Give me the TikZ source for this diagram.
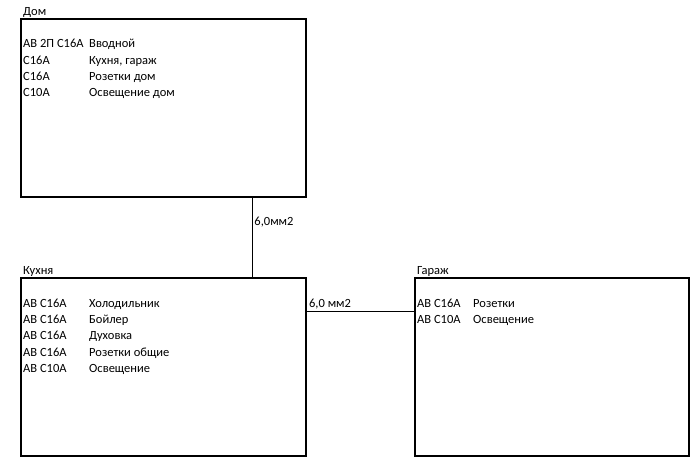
\documentclass[tikz,border=0pt]{standalone}
\usepackage{fontspec}
\setmainfont{Carlito}
\usepackage{tikz}
\usetikzlibrary{positioning,calc}

\begin{document}
\begin{tikzpicture}[x=1pt, y=-1pt,
  box/.style={draw, line width=1.4pt, minimum height=178pt, inner sep=0pt},
  caption/.style={font=\fontsize{12.5}{14}\selectfont, anchor=base west, inner sep=0pt},
  item/.style={font=\fontsize{12.5}{14}\selectfont, anchor=base west, inner sep=0pt},
  wire/.style={draw, line width=0.9pt},
]
\useasboundingbox (0,0) rectangle (700,470);

% boxes
\node[box, minimum width=285pt] (dom) at (163.5,108) {};
\node[box, minimum width=285pt] (kitchen) at (163.5,367) {};
\node[box, minimum width=274pt] (garage) at (552,367) {};

% titles
\node[caption] (domtitle) at (23,15.5) {Дом};
\node[caption] (kitchentitle) at (23,274.5) {Кухня};
\node[caption] (garagetitle) at (417,274.5) {Гараж};

% Дом
\foreach \i/\ab in {0/АВ 2П С16А, 1/С16А, 2/С16А, 3/С10А} {
  \node[item] (doma\i) at (23, 48+\i*16.2) {\ab};
}
\foreach \i/\name in {0/Вводной, 1/{Кухня, гараж}, 2/Розетки дом, 3/Освещение дом} {
  \node[item] (domb\i) at (89, 48+\i*16.2) {\name};
}

% Кухня
\foreach \i/\ab/\name in {0/АВ С16А/Холодильник, 1/АВ С16А/Бойлер,
                          2/АВ С16А/Духовка, 3/АВ С16А/Розетки общие,
                          4/АВ С10А/Освещение} {
  \node[item] (kitchena\i) at (23, 307.5+\i*16.2) {\ab};
  \node[item] (kitchenb\i) at (89, 307.5+\i*16.2) {\name};
}

% Гараж
\foreach \i/\ab/\name in {0/АВ С16А/Розетки, 1/АВ С10А/Освещение} {
  \node[item] (garagea\i) at (417, 307.5+\i*16.2) {\ab};
  \node[item] (garageb\i) at (473, 307.5+\i*16.2) {\name};
}

% cables
\draw[wire] ([xshift=88.5pt]dom.south) -- ([xshift=88.5pt]kitchen.north)
  node[item, pos=0.35, xshift=2pt] (cable1) {6,0мм2};
\draw[wire] ([yshift=56pt]kitchen.east) -- ([yshift=56pt]garage.west)
  node[item, pos=0, xshift=2pt, yshift=3.5pt] (cable2) {6,0 мм2};
\end{tikzpicture}
\end{document}
